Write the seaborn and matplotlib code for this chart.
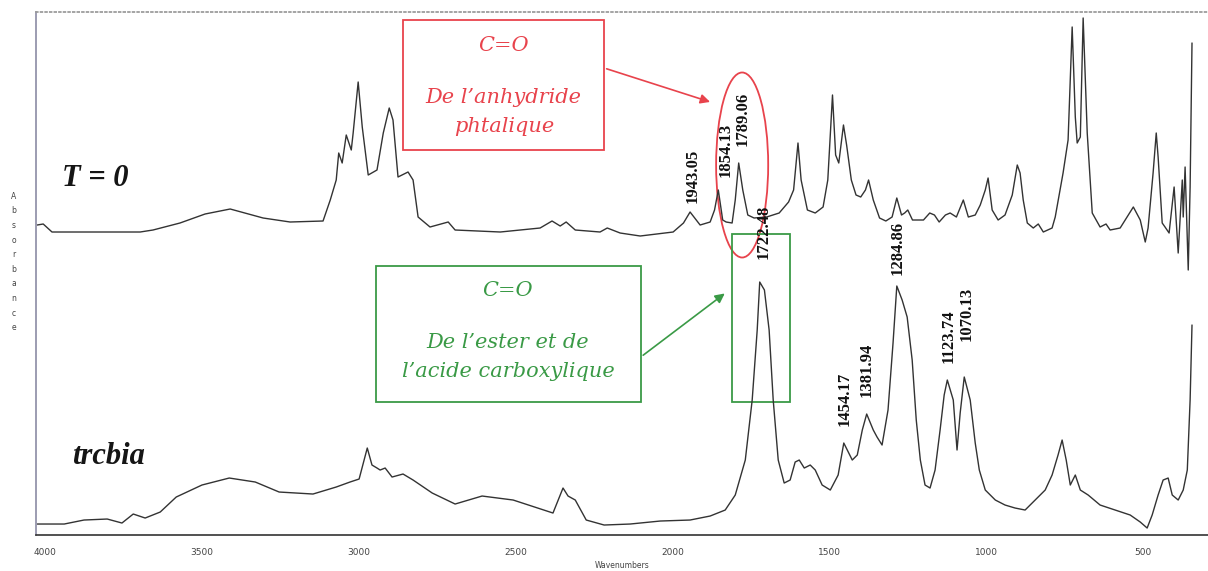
import matplotlib
matplotlib.use('Agg')
import matplotlib.pyplot as plt
from matplotlib.patches import Ellipse, Rectangle
import seaborn as sns
import pandas as pd

# spectrum T = 0 (upper trace), absorbance in arbitrary stacked units
t0_wavenumber = [4025, 4006, 3978, 3888, 3697, 3656, 3570, 3490, 3410, 3305, 3219, 3114, 3091,
                 3072, 3064, 3053, 3040, 3024, 3018, 3002, 2989, 2970, 2942, 2922, 2903, 2891,
                 2875, 2843, 2827, 2811, 2773, 2715, 2693, 2549, 2422, 2384, 2358, 2339, 2310,
                 2231, 2208, 2167, 2103, 1998, 1965, 1944, 1912, 1880, 1866, 1854, 1840, 1829,
                 1810, 1800, 1789, 1776, 1760, 1740, 1700, 1660, 1630, 1614, 1600, 1590, 1570,
                 1545, 1520, 1505, 1490, 1480, 1470, 1455, 1445, 1430, 1415, 1400, 1385, 1375,
                 1360, 1340, 1320, 1300, 1285, 1270, 1260, 1250, 1235, 1200, 1180, 1165, 1150,
                 1130, 1115, 1095, 1073, 1057, 1035, 1019, 1003, 994, 981, 962, 940, 917, 901,
                 892, 882, 869, 850, 834, 818, 790, 780, 755, 739, 726, 716, 710, 700, 691, 678,
                 662, 637, 618, 605, 573, 531, 509, 493, 484, 468, 458, 452, 439, 430, 417, 401,
                 391, 388, 375, 372, 366, 356, 350, 344]
t0_absorbance = [3.10, 3.11, 3.03, 3.03, 3.03, 3.05, 3.12, 3.21, 3.26, 3.17, 3.13, 3.14, 3.35,
                 3.55, 3.82, 3.72, 4.00, 3.85, 4.02, 4.53, 4.08, 3.60, 3.65, 4.02, 4.27, 4.15,
                 3.58, 3.63, 3.55, 3.18, 3.08, 3.13, 3.05, 3.03, 3.07, 3.14, 3.09, 3.13, 3.05,
                 3.03, 3.07, 3.02, 2.99, 3.03, 3.12, 3.23, 3.10, 3.13, 3.25, 3.45, 3.15, 3.13,
                 3.12, 3.35, 3.72, 3.45, 3.20, 3.17, 3.18, 3.22, 3.33, 3.45, 3.92, 3.55, 3.25,
                 3.22, 3.28, 3.55, 4.40, 3.80, 3.72, 4.10, 3.90, 3.55, 3.40, 3.38, 3.45, 3.55,
                 3.35, 3.17, 3.14, 3.18, 3.37, 3.20, 3.22, 3.25, 3.15, 3.15, 3.22, 3.20, 3.13,
                 3.20, 3.22, 3.18, 3.35, 3.18, 3.20, 3.30, 3.45, 3.57, 3.25, 3.15, 3.20, 3.40, 3.70,
                 3.62, 3.35, 3.12, 3.07, 3.11, 3.03, 3.07, 3.18, 3.62, 3.95, 5.08, 4.18, 3.92, 3.98,
                 5.17, 4.02, 3.22, 3.08, 3.11, 3.05, 3.07, 3.28, 3.15, 2.93, 3.07, 3.62, 4.02, 3.78,
                 3.12, 3.08, 3.02, 3.48, 2.97, 2.82, 3.55, 3.18, 3.68, 2.65, 3.48, 4.92]

# spectrum trcbia (lower trace)
trcbia_wavenumber = [4025, 3939, 3876, 3802, 3755, 3719, 3681, 3633, 3582, 3500, 3413, 3330, 3254,
                     3146, 3072, 3028, 2999, 2973, 2958, 2942, 2932, 2916, 2894, 2859, 2827, 2766,
                     2693, 2607, 2508, 2381, 2349, 2333, 2310, 2275, 2218, 2135, 2039, 1944, 1880,
                     1832, 1800, 1768, 1746, 1730, 1722, 1707, 1692, 1679, 1663, 1644, 1625, 1609,
                     1596, 1580, 1561, 1545, 1523, 1497, 1472, 1454, 1427, 1411, 1395, 1381, 1360,
                     1348, 1332, 1313, 1297, 1285, 1268, 1252, 1236, 1223, 1210, 1195, 1179, 1163,
                     1147, 1134, 1124, 1105, 1093, 1083, 1070, 1051, 1035, 1022, 1003, 971, 940, 908,
                     876, 844, 812, 790, 771, 758, 745, 732, 716, 700, 675, 637, 589, 541, 509, 487,
                     471, 452, 436, 420, 407, 388, 372, 359, 350, 344]
trcbia_absorbance = [0.11, 0.11, 0.15, 0.16, 0.12, 0.21, 0.17, 0.23, 0.38, 0.50, 0.57, 0.53, 0.43,
                     0.41, 0.48, 0.53, 0.56, 0.87, 0.70, 0.67, 0.65, 0.67, 0.58, 0.61, 0.55, 0.42,
                     0.31, 0.39, 0.35, 0.22, 0.47, 0.39, 0.35, 0.15, 0.10, 0.11, 0.14, 0.15, 0.19,
                     0.25, 0.40, 0.75, 1.35, 2.05, 2.53, 2.45, 2.05, 1.35, 0.75, 0.52, 0.55, 0.73,
                     0.75, 0.67, 0.70, 0.65, 0.50, 0.45, 0.60, 0.92, 0.75, 0.80, 1.05, 1.21, 1.05,
                     0.98, 0.90, 1.25, 1.92, 2.49, 2.35, 2.18, 1.75, 1.15, 0.75, 0.50, 0.47, 0.65,
                     1.05, 1.40, 1.55, 1.35, 0.85, 1.22, 1.58, 1.35, 0.92, 0.65, 0.45, 0.35, 0.30, 0.27,
                     0.25, 0.35, 0.45, 0.60, 0.80, 0.95, 0.75, 0.50, 0.60, 0.45, 0.40, 0.30, 0.25, 0.20,
                     0.13, 0.07, 0.20, 0.40, 0.55, 0.57, 0.40, 0.35, 0.45, 0.65, 1.35, 2.10]

peak_labels = ['1943.05', '1854.13', '1789.06', '1722.48', '1454.17', '1381.94', '1284.86',
               '1123.74', '1070.13']
peak_label_wn = [1935, 1832, 1778, 1711, 1450, 1380, 1281, 1121, 1061]
peak_label_abs = [3.59, 3.85, 4.16, 3.03, 1.36, 1.65, 2.87, 1.99, 2.21]

x_ticks = [4000, 3500, 3000, 2500, 2000, 1500, 1000, 500]

red = '#e8434c'
green = '#3a9a46'

sns.set_theme(style='white')
plt.rcParams['font.family'] = ['DejaVu Sans']

df = pd.concat([
    pd.DataFrame({'wn': t0_wavenumber, 'abs': t0_absorbance, 'sample': 'T = 0'}),
    pd.DataFrame({'wn': trcbia_wavenumber, 'abs': trcbia_absorbance, 'sample': 'trcbia'}),
])

fig = plt.figure(figsize=(12.08, 5.71), dpi=100)
ax = fig.add_axes([0.0298, 0.063, 0.9702, 0.916])
sns.lineplot(data=df, x='wn', y='abs', units='sample', estimator=None, sort=False,
             color='#333333', lw=1.0, ax=ax)

ax.set_xlim(4029, 293)
ax.set_ylim(0, 5.23)
ax.set_xticks(x_ticks)
ax.set_yticks([])
ax.tick_params(axis='x', length=0, labelsize=6.5, labelcolor='#444444', pad=9)
ax.set_xlabel('Wavenumbers', fontsize=5.5, color='#444444', labelpad=3)
ax.set_ylabel('')
ax.spines['right'].set_visible(False)
ax.spines['top'].set_linestyle(':')
ax.spines['top'].set_color('#999999')
ax.spines['left'].set_color('#9090a8')
ax.spines['bottom'].set_color('#333333')
ax.spines['bottom'].set_linewidth(1.2)

fig.text(0.0116, 0.541, '\n'.join('Absorbance'), fontsize=5.5, color='#444444',
         ha='center', va='center', linespacing=1.8)

for lab, wn, a in zip(peak_labels, peak_label_wn, peak_label_abs):
    ax.text(wn, a, lab, rotation=90, ha='center', va='center', fontsize=12,
            fontweight='bold', family='Liberation Serif', color='#111111')

fig.text(0.051, 0.688, 'T = 0', fontsize=22, style='italic', weight='bold',
         family='Liberation Serif', va='center', color='#151515')
fig.text(0.060, 0.200, 'trcbia', fontsize=22, style='italic', weight='bold',
         family='Liberation Serif', va='center', color='#151515')

# red annotation (anhydride)
fig.add_artist(Rectangle((0.334, 0.737), 0.166, 0.228, transform=fig.transFigure,
                         fill=False, ec=red, lw=1.3))
fig.text(0.417, 0.921, 'C=O', fontsize=15, style='italic', family='DejaVu Serif',
         color=red, ha='center', va='center')
fig.text(0.417, 0.830, 'De l\u2019anhydride', fontsize=15, style='italic',
         family='DejaVu Serif', color=red, ha='center', va='center')
fig.text(0.417, 0.778, 'phtalique', fontsize=15, style='italic', family='DejaVu Serif',
         color=red, ha='center', va='center')
ax.annotate('', xy=(0.590, 0.820), xycoords='figure fraction', xytext=(0.5, 0.881),
            textcoords='figure fraction',
            arrowprops=dict(arrowstyle='-|>', color=red, lw=1.2, mutation_scale=14))
ax.add_patch(Ellipse((1778, 3.70), 166, 1.85, fill=False, ec=red, lw=1.3))

# green annotation (ester / acid)
fig.add_artist(Rectangle((0.3113, 0.296), 0.2194, 0.238, transform=fig.transFigure,
                         fill=False, ec=green, lw=1.3))
fig.text(0.4205, 0.492, 'C=O', fontsize=15, style='italic', family='DejaVu Serif',
         color=green, ha='center', va='center')
fig.text(0.4205, 0.401, 'De l\u2019ester et de', fontsize=15, style='italic',
         family='DejaVu Serif', color=green, ha='center', va='center')
fig.text(0.4205, 0.349, 'l\u2019acide carboxylique', fontsize=15, style='italic',
         family='DejaVu Serif', color=green, ha='center', va='center')
ax.annotate('', xy=(0.6018, 0.489), xycoords='figure fraction', xytext=(0.5306, 0.375),
            textcoords='figure fraction',
            arrowprops=dict(arrowstyle='-|>', color=green, lw=1.2, mutation_scale=14))
ax.add_patch(Rectangle((1625, 1.33), 185, 1.68, fill=False, ec=green, lw=1.3))

fig.savefig('out.png', dpi=100)
